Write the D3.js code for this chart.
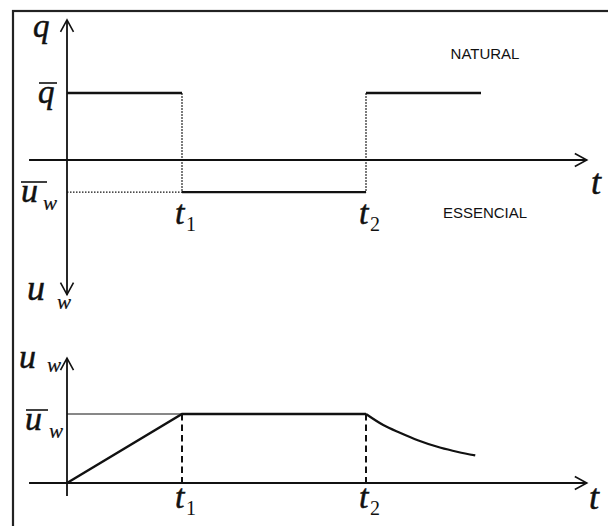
<!DOCTYPE html>
<html>
<head>
<meta charset="utf-8">
<script src="https://cdn.jsdelivr.net/npm/d3@7"></script>
<style>
  html, body { margin: 0; padding: 0; background: #fff; }
  svg { display: block; }
  .math { font-family: "Liberation Serif", "Times New Roman", serif; font-style: italic; fill: #111; stroke: #111; stroke-width: 0.5px; }
  .sub { font-family: "Liberation Serif", "Times New Roman", serif; fill: #111; }
  .tag { font-family: "Liberation Sans", Arial, sans-serif; font-size: 15px; fill: #111; }
</style>
</head>
<body>
<script>
// Switching instants (time units, t1 = 1)
const switchTimes = [1, 2.6];
const switchLabels = ["1", "2"];

// Upper panel: flow q (positive = NATURAL, negative = ESSENCIAL)
const naturalSpans = [[0, 1], [2.6, 3.6]];
const qBar = 1;
const essentialSpan = [1, 2.6];
const uBarUpper = -0.48;

// Lower panel: u_w(t) — linear rise, plateau, then decay after t2
const uTimes = [0, 1, 2.6, 2.75, 2.9, 3.05, 3.25, 3.4, 3.55];
const uValues = [0, 1, 1, 0.84, 0.725, 0.62, 0.51, 0.45, 0.40];

const W = 608, H = 526;
const svg = d3.select("body").append("svg").attr("width", W).attr("height", H);

const defs = svg.append("defs");
defs.append("marker")
  .attr("id", "arrow")
  .attr("markerUnits", "userSpaceOnUse")
  .attr("viewBox", "-1 -8 15 16")
  .attr("refX", 12).attr("refY", 0)
  .attr("markerWidth", 15).attr("markerHeight", 16)
  .attr("orient", "auto")
  .append("path")
  .attr("d", "M0,-6.5L12,0L0,6.5")
  .attr("fill", "none").attr("stroke", "#111").attr("stroke-width", 1.6);

// Frame (only top and left edges fall inside the canvas)
svg.append("rect").attr("x", 13).attr("y", 11).attr("width", 700).attr("height", 700)
  .attr("fill", "none").attr("stroke", "#222").attr("stroke-width", 2.2);

// Shared time scale
const x = d3.scaleLinear().domain([0, 1]).range([67, 182]);
const tMin = -0.33, tMax = 4.52;

// ---------- Upper panel ----------
const yq = d3.scaleLinear().domain([0, 1]).range([160, 93]);
const gTop = svg.append("g");

// time axis
gTop.append("line")
  .attr("x1", x(tMin)).attr("x2", x(tMax))
  .attr("y1", yq(0)).attr("y2", yq(0))
  .attr("stroke", "#111").attr("stroke-width", 1.8)
  .attr("marker-end", "url(#arrow)");
// vertical axis: q upward, u_w downward
gTop.append("line")
  .attr("x1", x(0)).attr("x2", x(0))
  .attr("y1", yq(0)).attr("y2", yq(2.09))
  .attr("stroke", "#111").attr("stroke-width", 1.8)
  .attr("marker-end", "url(#arrow)");
gTop.append("line")
  .attr("x1", x(0)).attr("x2", x(0))
  .attr("y1", yq(0)).attr("y2", yq(-2.01))
  .attr("stroke", "#111").attr("stroke-width", 1.8)
  .attr("marker-end", "url(#arrow)");

// dotted guides
gTop.append("line")
  .attr("x1", x(0)).attr("x2", x(switchTimes[0]))
  .attr("y1", yq(uBarUpper)).attr("y2", yq(uBarUpper))
  .attr("stroke", "#111").attr("stroke-width", 1.2).attr("stroke-dasharray", "1.5,1.5");
gTop.selectAll(".vguide").data(switchTimes).join("line")
  .attr("x1", d => x(d)).attr("x2", d => x(d))
  .attr("y1", yq(qBar)).attr("y2", yq(uBarUpper))
  .attr("stroke", "#111").attr("stroke-width", 1.1).attr("stroke-dasharray", "2,1");

// NATURAL segments
gTop.selectAll(".nat").data(naturalSpans).join("line")
  .attr("x1", d => x(d[0])).attr("x2", d => x(d[1]))
  .attr("y1", yq(qBar)).attr("y2", yq(qBar))
  .attr("stroke", "#111").attr("stroke-width", 2.4);
// ESSENCIAL segment
gTop.append("line")
  .attr("x1", x(essentialSpan[0])).attr("x2", x(essentialSpan[1]))
  .attr("y1", yq(uBarUpper)).attr("y2", yq(uBarUpper))
  .attr("stroke", "#111").attr("stroke-width", 2.4);

// ---------- Lower panel ----------
const yu = d3.scaleLinear().domain([0, 1]).range([483, 414]);
const gBot = svg.append("g");

gBot.append("line")
  .attr("x1", x(tMin)).attr("x2", x(tMax))
  .attr("y1", yu(0)).attr("y2", yu(0))
  .attr("stroke", "#111").attr("stroke-width", 1.8)
  .attr("marker-end", "url(#arrow)");
gBot.append("line")
  .attr("x1", x(0)).attr("x2", x(0))
  .attr("y1", yu(-0.19)).attr("y2", yu(1.81))
  .attr("stroke", "#111").attr("stroke-width", 1.8)
  .attr("marker-end", "url(#arrow)");

// thin reference level ū_w
gBot.append("line")
  .attr("x1", x(0)).attr("x2", x(switchTimes[0]))
  .attr("y1", yu(1)).attr("y2", yu(1))
  .attr("stroke", "#111").attr("stroke-width", 1);

// dashed drops at t1, t2
gBot.selectAll(".drop").data(switchTimes).join("line")
  .attr("x1", d => x(d)).attr("x2", d => x(d))
  .attr("y1", yu(1)).attr("y2", yu(0))
  .attr("stroke", "#111").attr("stroke-width", 2).attr("stroke-dasharray", "6.5,4");

const uPts = uTimes.map((t, i) => [t, uValues[i]]);
const lineLin = d3.line().x(d => x(d[0])).y(d => yu(d[1]));
const lineCurve = d3.line().x(d => x(d[0])).y(d => yu(d[1])).curve(d3.curveMonotoneX);
gBot.append("path").attr("d", lineLin(uPts.slice(0, 3)))
  .attr("fill", "none").attr("stroke", "#111").attr("stroke-width", 2.4);
gBot.append("path").attr("d", lineCurve(uPts.slice(2)))
  .attr("fill", "none").attr("stroke", "#111").attr("stroke-width", 2.2);

// ---------- Labels ----------
function mathLabel(g, xPos, yPos, main, sub, size, subSize, subDx, subDy, bar) {
  const t = g.append("text").attr("class", "math").attr("x", xPos).attr("y", yPos)
    .attr("font-size", size).text(main);
  if (sub) {
    g.append("text").attr("class", sub.match(/[0-9]/) ? "sub" : "math")
      .attr("x", xPos + subDx).attr("y", yPos + subDy)
      .attr("font-size", subSize).style("stroke-width", "0.2px").text(sub);
  }
  if (bar) {
    g.append("line").attr("x1", bar[0]).attr("x2", bar[1])
      .attr("y1", bar[2]).attr("y2", bar[2])
      .attr("stroke", "#111").attr("stroke-width", 1.6);
  }
  return t;
}

// upper panel
mathLabel(gTop, 33, 37, "q", null, 33);
mathLabel(gTop, 38, 103, "q", null, 33, 0, 0, 0, [39, 57, 83]);
mathLabel(gTop, 21, 202, "u", "w", 34, 21, 22, 8, [21, 47, 182]);
mathLabel(gTop, 27, 300, "u", "w", 36, 21, 30, 9);
mathLabel(gTop, 591, 194, "t", null, 36);
switchTimes.forEach((t, i) => {
  mathLabel(gTop, x(t) - 7, 224, "t", switchLabels[i], 34, 20, 11, 7);
});
gTop.append("text").attr("class", "tag").attr("x", 485).attr("y", 59)
  .attr("text-anchor", "middle").text("NATURAL");
gTop.append("text").attr("class", "tag").attr("x", 485).attr("y", 218)
  .attr("text-anchor", "middle").text("ESSENCIAL");

// lower panel
mathLabel(gBot, 19, 368, "u", "w", 34, 21, 28, 4);
mathLabel(gBot, 25, 430, "u", "w", 34, 21, 24, 8, [26, 48, 410]);
mathLabel(gBot, 589, 509, "t", null, 36);
switchTimes.forEach((t, i) => {
  mathLabel(gBot, x(t) - 7, 508, "t", switchLabels[i], 34, 20, 11, 7);
});
</script>
</body>
</html>
